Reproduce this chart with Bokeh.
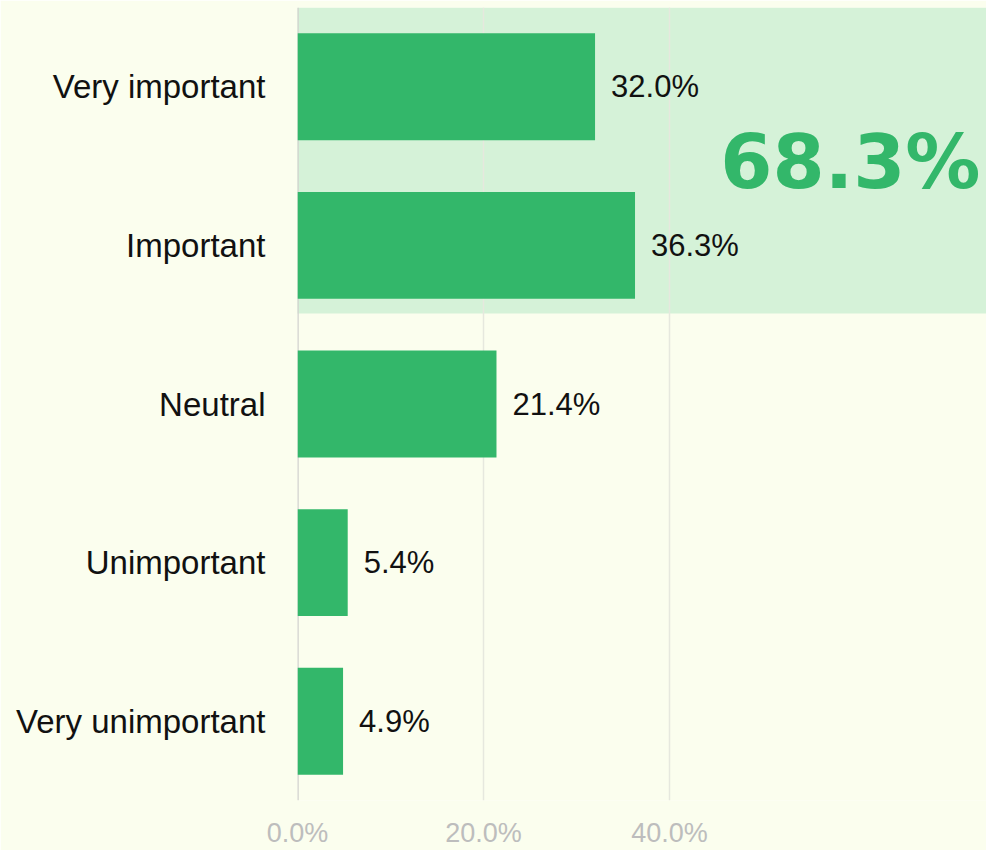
from bokeh.plotting import figure
from bokeh.models import FactorRange, Range1d, FixedTicker, ColumnDataSource, Span
from bokeh.core.properties import value
from bokeh.embed import file_html
from bokeh.resources import INLINE

categories = ["Very important", "Important", "Neutral", "Unimportant", "Very unimportant"]
shares = [32.0, 36.3, 21.4, 5.4, 4.9]
share_labels = ["32.0%", "36.3%", "21.4%", "5.4%", "4.9%"]
highlight_cats = ["Very important", "Important"]
highlight_label = "68.3%"
x_ticks = [0, 20, 40]
x_tick_labels = ["0.0%", "20.0%", "40.0%"]

BG = "#FBFEEE"
GREEN = "#33B76A"
LIGHT = "#D5F2D8"
X_MAX = 74.1

p = figure(
    width=986, height=850,
    y_range=FactorRange(factors=list(reversed(categories)), range_padding=0),
    x_range=Range1d(0, X_MAX),
    output_backend="svg", toolbar_location=None,
    min_border_left=297, min_border_right=0, min_border_top=7, min_border_bottom=48,
    background_fill_color=BG, border_fill_color=BG,
)
p.outline_line_color = None

# highlight band behind top two categories
p.quad(left=[-0.45], right=[X_MAX],
       top=[(highlight_cats[0], 0.5)], bottom=[(highlight_cats[-1], -0.43)],
       fill_color=LIGHT, line_color=None, level="image")

src = ColumnDataSource(dict(cat=categories, val=shares, lab=share_labels))
p.hbar(y="cat", left=0, right="val", height=0.674, source=src,
       fill_color=GREEN, line_color=None)

p.text(x="val", y="cat", text="lab", source=src, x_offset=16,
       text_baseline="middle", text_align="left",
       text_font=value("Liberation Sans"), text_font_size="31px", text_color="#111111")

p.text(x=[X_MAX], y=[(highlight_cats[-1], 0.5)], text=[highlight_label],
       x_offset=-6, y_offset=-4, text_align="right", text_baseline="alphabetic",
       text_font=value("DejaVu Sans"), text_font_style="bold",
       text_font_size="75px", text_color=GREEN)

zero = Span(location=0, dimension="height", line_color="#D2D2CE", line_width=2.5, level="underlay")
p.add_layout(zero)

p.ygrid.grid_line_color = None
p.xgrid.ticker = FixedTicker(ticks=x_ticks)
p.xgrid.grid_line_color = "#E6E8DE"
p.xgrid.grid_line_width = 1.5

p.xaxis.ticker = FixedTicker(ticks=x_ticks)
p.xaxis.major_label_overrides = {t: l for t, l in zip(x_ticks, x_tick_labels)}
p.xaxis.axis_line_color = None
p.xaxis.major_tick_line_color = None
p.xaxis.minor_tick_line_color = None
p.xaxis.major_label_standoff = 11
p.xaxis.major_label_text_font = "Liberation Sans"
p.xaxis.major_label_text_font_size = "27px"
p.xaxis.major_label_text_color = "#BDBDBD"

p.yaxis.axis_line_color = None
p.yaxis.major_tick_line_color = None
p.yaxis.minor_tick_line_color = None
p.yaxis.major_label_standoff = 26
p.yaxis.major_label_text_font = "Liberation Sans"
p.yaxis.major_label_text_font_size = "33px"
p.yaxis.major_label_text_color = "#111111"

open("out.html", "w").write(file_html(p, INLINE))
